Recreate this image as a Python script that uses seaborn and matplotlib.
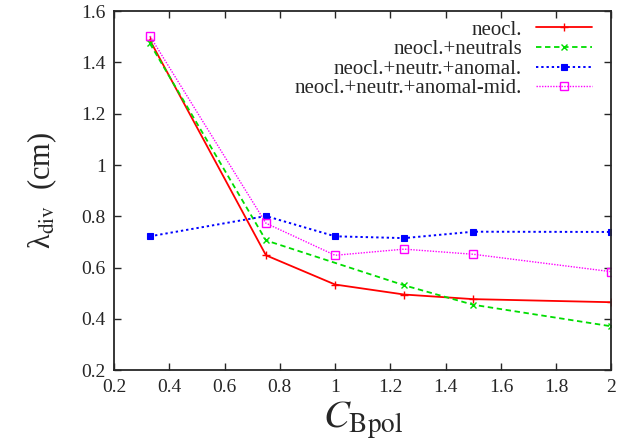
import matplotlib
matplotlib.use("Agg")
import seaborn as sns
from matplotlib import pyplot as plt
from matplotlib.ticker import FuncFormatter, MultipleLocator

# data
x_all = [0.33, 0.75, 1.0, 1.25, 1.5, 2.0]
x_neutrals = [0.33, 0.75, 1.25, 1.5, 2.0]

neocl = [1.487, 0.648, 0.534, 0.495, 0.477, 0.465]
neocl_neutrals = [1.474, 0.706, 0.531, 0.455, 0.371]
neocl_anomal = [0.722, 0.801, 0.722, 0.715, 0.740, 0.739]
neocl_anomal_mid = [1.503, 0.773, 0.648, 0.672, 0.652, 0.584]

labels = ["neocl.", "neocl.+neutrals", "neocl.+neutr.+anomal.",
          "neocl.+neutr.+anomal-mid."]

sns.set_style("ticks")
plt.rcParams['font.family'] = ['Liberation Serif', 'DejaVu Serif']
plt.rcParams['mathtext.fontset'] = 'stix'

fig, ax = plt.subplots(figsize=(6.33, 4.46), dpi=100)
fig.subplots_adjust(left=0.18, right=0.966, top=0.975, bottom=0.17)

sns.lineplot(x=x_all, y=neocl, ax=ax, color="#ff0000", linestyle="-",
             linewidth=1.3, marker="+", markersize=6, markeredgewidth=1.0,
             markeredgecolor="#ff0000", label=labels[0])
sns.lineplot(x=x_neutrals, y=neocl_neutrals, ax=ax, color="#00dd00",
             linestyle=(0, (3, 2)), linewidth=1.3, marker="x", markersize=5,
             markeredgewidth=1.0, markeredgecolor="#00dd00", label=labels[1])
sns.lineplot(x=x_all, y=neocl_anomal, ax=ax, color="#0000ff",
             linestyle=(0, (1.2, 1.5)), linewidth=1.4, marker="s",
             markersize=4, markeredgewidth=0.8, markeredgecolor="#0000ff",
             label=labels[2])
sns.lineplot(x=x_all, y=neocl_anomal_mid, ax=ax, color="#ff00ff",
             linestyle=(0, (1, 1)), linewidth=1.0, marker="s", markersize=6,
             markerfacecolor="none", markeredgecolor="#ff00ff",
             markeredgewidth=1.0, label=labels[3])

ax.set_xlim(0.2, 2.0)
ax.set_ylim(0.2, 1.6)
ax.xaxis.set_major_locator(MultipleLocator(0.2))
ax.yaxis.set_major_locator(MultipleLocator(0.2))
fmt = FuncFormatter(lambda v, p: f"{v:g}")
ax.xaxis.set_major_formatter(fmt)
ax.yaxis.set_major_formatter(fmt)
ax.tick_params(direction="in", top=True, right=True, length=5, width=1,
               labelsize=14, pad=6)
for s in ax.spines.values():
    s.set_linewidth(1.3)
    s.set_visible(True)

ax.set_xlabel(r"$C_{\mathrm{Bpol}}$", fontsize=28, labelpad=3)
ax.set_ylabel(r"λ$_{\mathrm{div}}$  (cm)", fontsize=22, labelpad=16)

leg = ax.legend(loc="upper right", frameon=False, markerfirst=False,
                fontsize=15, handlelength=2.65, numpoints=1,
                labelspacing=0.0, handletextpad=0.7, borderpad=0,
                borderaxespad=0, bbox_to_anchor=(0.96, 0.975))

fig.savefig("out.png", dpi=100)
